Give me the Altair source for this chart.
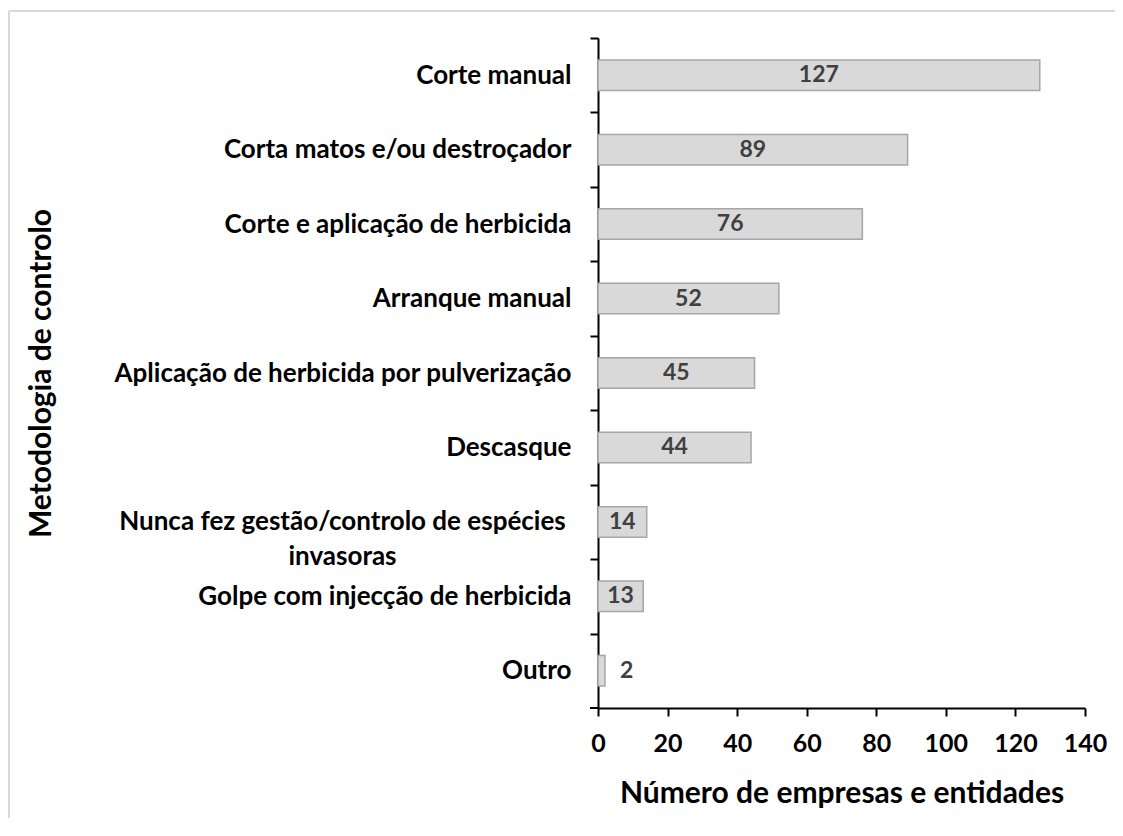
import altair as alt
import pandas as pd

categories = [
    "Corte manual",
    "Corta matos e/ou destroçador",
    "Corte e aplicação de herbicida",
    "Arranque manual",
    "Aplicação de herbicida por pulverização",
    "Descasque",
    "Nunca fez gestão/controlo de espécies invasoras",
    "Golpe com injecção de herbicida",
    "Outro",
]
values = [127, 89, 76, 52, 45, 44, 14, 13, 2]
x_ticks = [0, 20, 40, 60, 80, 100, 120, 140]

df = pd.DataFrame({"cat": categories, "n": values})

W, H = 487, 670
STEP = H / len(categories)
FONT = "Lato"
X_TITLE = "Número de empresas e entidades"
LONG = "Nunca fez gestão/controlo de espécies invasoras"
is_long = f"datum.value == '{LONG}'"

wrap_expr = (
    f"datum.label == '{LONG}' ? "
    "['Nunca fez gestão/controlo de espécies', 'invasoras'] : datum.label"
)

y_axis = alt.Axis(
    domainColor="black", domainWidth=2,
    tickColor="black", tickWidth=2, tickSize=8,
    tickOffset=-STEP / 2, labelOffset=STEP / 2,
    labelFont=FONT, labelFontSize=26, labelFontWeight="bold", labelColor="black",
    labelAlign={"condition": {"test": is_long, "value": "center"}, "value": "right"},
    labelPadding={"condition": {"test": is_long, "value": 248}, "value": 19},
    labelLimit=700, labelLineHeight=35,
    labelExpr=wrap_expr,
    titleFont=FONT, titleFontSize=30, titleFontWeight="bold", titleColor="black",
    titleX=-557, titleY=H / 2, titleBaseline="middle", titleAngle=270,
)
x_axis = alt.Axis(
    values=x_ticks, grid=False, labelFlush=False,
    domainColor="black", domainWidth=2,
    tickColor="black", tickWidth=2, tickSize=8,
    labelFont=FONT, labelFontSize=25, labelFontWeight="bold", labelColor="black",
    labelPadding=15,
    titleFont=FONT, titleFontSize=30, titleFontWeight="bold", titleColor="black",
    titleY=85, titleBaseline="middle",
)
x_scale = alt.Scale(domain=[0, 140], nice=False)

y_enc = alt.Y(
    "cat:N",
    sort=categories,
    title="Metodologia de controlo",
    scale=alt.Scale(paddingInner=0.59, paddingOuter=0.295),
    axis=y_axis,
)

bars = alt.Chart(df).mark_bar(
    fill="#d9d9d9", stroke="#a6a6a6", strokeWidth=1.5
).encode(x=alt.X("n:Q", title=X_TITLE, scale=x_scale, axis=x_axis), y=y_enc)

text_in = alt.Chart(df).transform_filter("datum.n >= 10").transform_calculate(
    mid="datum.n / 2"
).mark_text(
    font=FONT, fontSize=23, fontWeight="bold", color="#404040", baseline="middle"
).encode(
    x=alt.X("mid:Q", title=X_TITLE, scale=x_scale, axis=x_axis),
    y=y_enc,
    text="n:Q",
)

text_out = alt.Chart(df).transform_filter("datum.n < 10").mark_text(
    font=FONT, fontSize=23, fontWeight="bold", color="#404040",
    baseline="middle", align="left", dx=15,
).encode(
    x=alt.X("n:Q", title=X_TITLE, scale=x_scale, axis=x_axis),
    y=y_enc,
    text="n:Q",
)

one = pd.DataFrame({"a": [0]})
border_top = alt.Chart(one).mark_rule(color="#d9d9d9", strokeWidth=2).encode(
    x=alt.value(-589), x2=alt.value(530), y=alt.value(-27)
)
border_left = alt.Chart(one).mark_rule(color="#d9d9d9", strokeWidth=2).encode(
    x=alt.value(-589), y=alt.value(-27), y2=alt.value(800)
)
corner_tick = alt.Chart(one).mark_rule(color="black", strokeWidth=2).encode(
    x=alt.value(-8), x2=alt.value(0), y=alt.value(H)
)

chart = alt.layer(bars, text_in, text_out, border_top, border_left, corner_tick).properties(
    width=W,
    height=H,
    padding={"left": 590, "top": 30, "right": 30, "bottom": 110},
    autosize=alt.AutoSizeParams(type="none"),
).configure_view(stroke=None)

chart.save("out.html", embed_options={"renderer": "svg", "actions": False})
